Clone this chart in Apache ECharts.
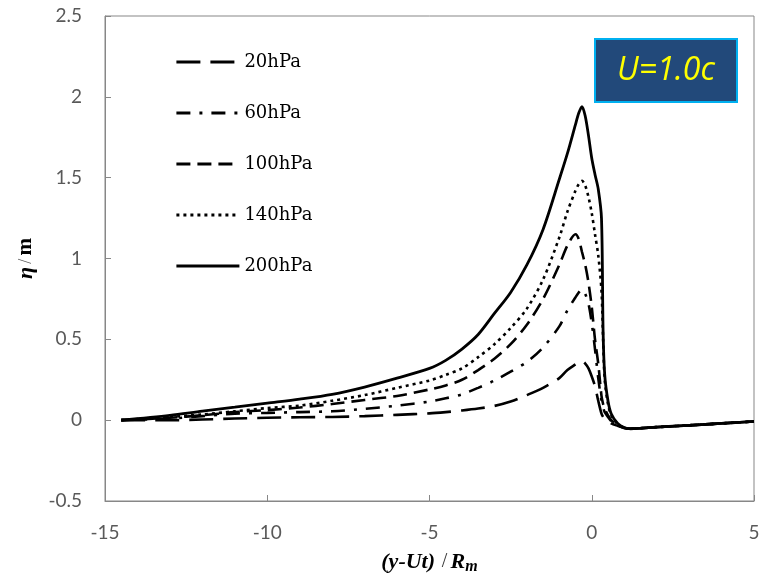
<!DOCTYPE html>
<html>
<head>
<meta charset="utf-8">
<script src="https://cdn.jsdelivr.net/npm/echarts@6/dist/echarts.min.js"></script>
<style>
  html, body { margin: 0; padding: 0; background: #fff; }
  #chart { width: 769px; height: 576px; }
</style>
</head>
<body>
<div id="chart"></div>
<script>
// Non-dimensional position (y-Ut)/Rm shared by every profile
var xPos = [-14.5, -13, -12, -11, -10, -9, -8, -7, -6, -5, -4.5, -4, -3.5, -3, -2.5, -2, -1.5, -1, -0.75, -0.5, -0.4, -0.3,
            -0.2, -0.1, 0, 0.1, 0.2, 0.3, 0.35, 0.4, 0.5, 0.6, 0.8, 1.0, 1.2, 1.5, 2, 3, 4, 5];

// Surface elevation eta (m) for each pressure drop
var eta20 = [0, 0, 0.004, 0.01, 0.015, 0.018, 0.02, 0.025, 0.033, 0.042, 0.05, 0.06, 0.072, 0.088, 0.115, 0.155, 0.20, 0.26, 0.31, 0.345, 0.358, 0.365,
             0.35, 0.32, 0.27, 0.21, 0.12, 0.04, 0.02, 0.01, -0.005, -0.02, -0.035, -0.048, -0.053, -0.05, -0.043, -0.032, -0.02, -0.008];
var eta60 = [0, 0.01, 0.025, 0.04, 0.045, 0.05, 0.055, 0.07, 0.09, 0.115, 0.135, 0.16, 0.20, 0.245, 0.30, 0.36, 0.45, 0.58, 0.68, 0.76, 0.79, 0.81,
             0.78, 0.72, 0.60, 0.44, 0.26, 0.12, 0.08, 0.05, 0.02, -0.005, -0.03, -0.048, -0.053, -0.05, -0.043, -0.032, -0.02, -0.008];
var eta100 = [0, 0.015, 0.03, 0.05, 0.062, 0.078, 0.10, 0.125, 0.15, 0.19, 0.215, 0.25, 0.31, 0.38, 0.47, 0.59, 0.75, 0.96, 1.08, 1.15, 1.12, 1.04,
              0.96, 0.85, 0.70, 0.50, 0.35, 0.15, 0.10, 0.07, 0.03, 0.0, -0.03, -0.048, -0.053, -0.05, -0.043, -0.032, -0.02, -0.008];
var eta140 = [0, 0.02, 0.035, 0.055, 0.075, 0.09, 0.12, 0.155, 0.20, 0.245, 0.28, 0.32, 0.39, 0.47, 0.57, 0.69, 0.87, 1.13, 1.29, 1.42, 1.46, 1.48,
              1.45, 1.38, 1.28, 1.15, 1.02, 0.80, 0.50, 0.25, 0.10, 0.03, -0.025, -0.047, -0.053, -0.05, -0.043, -0.032, -0.02, -0.008];
var eta200 = [0, 0.03, 0.056, 0.08, 0.105, 0.13, 0.16, 0.205, 0.26, 0.32, 0.37, 0.44, 0.53, 0.66, 0.79, 0.96, 1.18, 1.49, 1.65, 1.83, 1.90, 1.94,
              1.88, 1.76, 1.62, 1.52, 1.43, 1.25, 0.55, 0.28, 0.12, 0.04, -0.02, -0.045, -0.053, -0.05, -0.043, -0.032, -0.02, -0.008];

var seriesNames = ['20hPa', '60hPa', '100hPa', '140hPa', '200hPa'];
var seriesValues = [eta20, eta60, eta100, eta140, eta200];
var dashPatterns = [[24, 10], [14, 9, 3, 9], [14, 7], [3, 4], 'solid'];

var xTicks = { min: -15, max: 5, interval: 5 };
var yTicks = { min: -0.5, max: 2.5, interval: 0.5 };

function pairs(ys) {
  return xPos.map(function (x, i) { return [x, ys[i]]; });
}

var chart = echarts.init(document.getElementById('chart'), null, { renderer: 'canvas' });

var axisGray = '#878787';
var tickFont = { fontFamily: 'Lato', fontSize: 19, color: '#595959' };

var option = {
  animation: false,
  backgroundColor: '#ffffff',
  grid: {
    left: 105, right: 15, top: 16, bottom: 75,
    containLabel: false,
    outerBoundsMode: 'none',
    show: true, borderColor: axisGray, borderWidth: 1, backgroundColor: 'transparent'
  },
  legend: {
    orient: 'vertical',
    left: 175,
    top: 52,
    padding: 0,
    itemWidth: 63,
    itemHeight: 20,
    itemGap: 31,
    data: seriesNames,
    textStyle: { fontFamily: 'DejaVu Serif', fontSize: 18, color: '#000', lineHeight: 20 },
    itemStyle: { color: 'rgba(0,0,0,0)', borderColor: 'rgba(0,0,0,0)', borderWidth: 0, opacity: 0 },
    lineStyle: { width: 2.8, cap: 'butt' }
  },
  xAxis: {
    type: 'value',
    min: xTicks.min, max: xTicks.max, interval: xTicks.interval,
    axisLine: { show: true, onZero: false, lineStyle: { color: axisGray, width: 1 } },
    axisTick: { show: true, inside: true, length: 6, lineStyle: { color: axisGray } },
    splitLine: { show: false },
    axisLabel: Object.assign({ margin: 22 }, tickFont),
    name: '{b|(y-Ut)}  {n|/} {b|R}{s|m}',
    nameLocation: 'middle',
    nameGap: 48,
    nameTextStyle: {
      rich: {
        b: { fontFamily: 'Liberation Serif', fontWeight: 'bold', fontStyle: 'italic', fontSize: 22, color: '#000', lineHeight: 26 },
        n: { fontFamily: 'Liberation Serif', fontSize: 20, color: '#333', lineHeight: 26 },
        s: { fontFamily: 'Liberation Serif', fontWeight: 'bold', fontStyle: 'italic', fontSize: 16, color: '#000', lineHeight: 26, verticalAlign: 'bottom', padding: [8, 0, 0, 0] }
      }
    }
  },
  yAxis: {
    type: 'value',
    min: yTicks.min, max: yTicks.max, interval: yTicks.interval,
    axisLine: { show: true, onZero: false, lineStyle: { color: axisGray, width: 1 } },
    axisTick: { show: true, inside: true, length: 6, lineStyle: { color: axisGray } },
    splitLine: { show: false },
    axisLabel: Object.assign({ margin: 23 }, tickFont),
    name: '{e|η} {n|/} {m|m}',
    nameLocation: 'middle',
    nameRotate: 90,
    nameGap: 68,
    nameTextStyle: {
      rich: {
        e: { fontFamily: 'Liberation Serif', fontWeight: 'bold', fontStyle: 'italic', fontSize: 22, color: '#000' },
        n: { fontFamily: 'Liberation Serif', fontSize: 18, color: '#555' },
        m: { fontFamily: 'Liberation Serif', fontWeight: 'bold', fontSize: 21, color: '#000' }
      }
    }
  },
  series: seriesNames.map(function (name, i) {
    return {
      name: name,
      type: 'line',
      data: pairs(seriesValues[i]),
      smooth: 0.3,
      symbol: 'none',
      lineStyle: { color: '#000', width: i === 4 ? 2.8 : 2.6, type: dashPatterns[i], cap: 'butt' },
      itemStyle: { color: '#000' },
      z: 2 + i
    };
  }),
  graphic: [
    {
      type: 'group',
      right: 31,
      top: 38,
      children: [
        {
          type: 'rect',
          shape: { x: 0, y: 0, width: 142, height: 63 },
          style: { fill: '#22497a', stroke: '#00b0f0', lineWidth: 2 }
        },
        {
          type: 'text',
          x: 71, y: 32,
          style: {
            text: 'U=1.0c',
            fill: '#ffff00',
            font: 'italic 32px "Open Sans"',
            textAlign: 'center',
            textVerticalAlign: 'middle'
          }
        }
      ]
    }
  ]
};

chart.setOption(option);
</script>
</body>
</html>
